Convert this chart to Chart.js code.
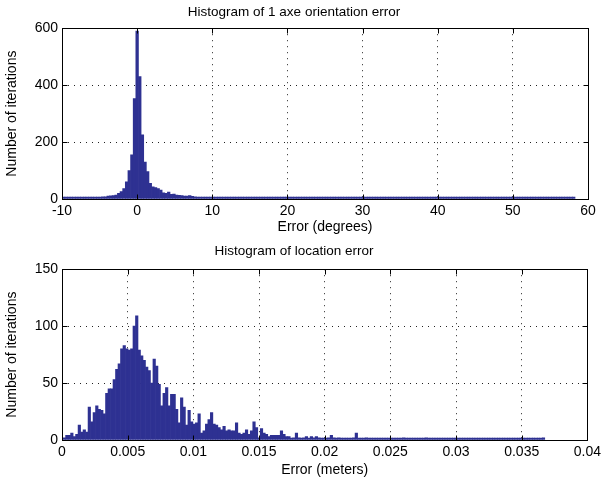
<!DOCTYPE html>
<html>
<head>
<meta charset="utf-8">
<script src="https://cdn.jsdelivr.net/npm/chart.js@4.4.0/dist/chart.umd.min.js"></script>
<style>
  html, body { margin: 0; padding: 0; background: #fff; }
  canvas { display: block; }
</style>
</head>
<body>
<canvas id="topChart" width="605" height="243"></canvas>
<canvas id="bottomChart" width="605" height="244"></canvas>
<script>
'use strict'
// top histogram: orientation error (degrees), bins of 0.35 starting at -9.8
let topStart = -9.8;
let topWidth = 0.35;
let topCounts = [
    1, 2, 1, 2, 2, 3, 2, 3, 3, 4, 4, 5, 5, 6,
    7, 8, 8, 10, 11, 12, 14, 20, 26, 37, 60, 100, 155, 353,
    590, 430, 225, 130, 96, 55, 43, 40, 37, 31, 22, 20, 24, 16,
    17, 14, 13, 12, 10, 10, 12, 9, 8, 7, 6, 6, 5, 5,
    4, 4, 3, 4, 3, 3, 2, 3, 2, 2,
    2, 1, 1, 2, 1, 1, 1, 0, 1, 2,
    1, 1, 0, 1, 1, 2, 2, 2, 1, 0,
    1, 0, 1, 1, 0, 1, 0, 1, 0, 2,
    1, 0, 1, 0, 1, 0, 2, 1, 0, 1,
    0, 1, 0, 1, 2, 1, 0, 0, 1, 0,
    2, 1, 0, 0, 1, 0, 0, 1, 0, 0,
    1, 0, 2, 1, 0, 0, 1, 0, 0, 0,
    1, 0, 0, 0, 1, 0, 0, 0, 0, 1,
    0, 0, 0, 1, 0, 0, 0, 0, 1, 0,
    0, 0, 0, 1, 0, 0, 0, 0, 0, 1,
    0, 0, 0, 0, 1, 0, 0, 0, 0, 0,
    1, 0, 0, 2, 0, 0, 0, 0, 0, 1,
    0, 0, 0, 0, 1, 0, 0, 0, 2
];
let topXTicks = [-10, 0, 10, 20, 30, 40, 50, 60];
let topXLabels = ['-10', '0', '10', '20', '30', '40', '50', '60'];
let topYTicks = [0, 200, 400, 600];
let topYLabels = ['0', '200', '400', '600'];

// bottom histogram: location error (meters), bins of 0.00019 starting at 0.00018
let bottomStart = 0.00018;
let bottomWidth = 0.00019;
let bottomCounts = [
    2, 4, 4, 6, 3, 5, 13, 7, 9, 7,
    29, 16, 24, 30, 27, 26, 23, 41, 45, 45,
    53, 62, 67, 80, 83, 80, 79, 80, 100, 109,
    79, 74, 70, 64, 61, 50, 71, 65, 49, 30,
    41, 46, 30, 40, 40, 27, 15, 37, 29, 13,
    26, 16, 14, 15, 23, 6, 8, 14, 18, 24,
    14, 13, 11, 9, 12, 8, 9, 8, 8, 15,
    6,
    5, 6, 9, 5, 8, 16, 11, 2, 10, 6,
    5, 3, 4, 4, 4, 4, 8, 5, 3, 3,
    1, 2, 6, 2, 1, 2, 3, 1, 3, 2,
    3, 2, 1, 1, 1, 2, 4, 2, 1, 2,
    0, 1, 0, 1, 1, 2, 6, 0, 0, 0,
    2, 1, 0, 0, 0, 0, 0, 1, 0, 0,
    0, 0, 0, 0, 0, 2, 0, 0, 0, 0,
    0, 0, 0, 0, 2,
    0, 0, 0, 0, 0, 0, 0, 0, 0, 0,
    0, 0, 0, 0, 0, 0, 0, 0, 0, 0,
    0, 0, 0, 0, 0, 0, 0, 0, 0, 0,
    0, 0, 0, 0, 0, 0, 0, 0, 0, 0,
    0, 0, 0, 0, 0, 0, 2
];
let bottomXTicks = [0, 0.005, 0.01, 0.015, 0.02, 0.025, 0.03, 0.035, 0.04];
let bottomXLabels = ['0', '0.005', '0.01', '0.015', '0.02', '0.025', '0.03', '0.035', '0.04'];
let bottomYTicks = [0, 50, 100, 150];
let bottomYLabels = ['0', '50', '100', '150'];

const barColor = '#2e3192';
const fontFamily = '"Liberation Sans", Arial, Helvetica, sans-serif';

// matlab style box with inward tick marks
const boxPlugin = {
    id: 'box',
    afterDatasetsDraw(chart) {
        const { ctx, chartArea: a, scales } = chart;
        const l = Math.round(a.left) + 0.5;
        const r = Math.round(a.right) + 0.5;
        const t = Math.round(a.top) + 0.5;
        const b = Math.round(a.bottom) + 0.5;
        ctx.save();
        ctx.strokeStyle = '#000';
        ctx.lineWidth = 1;
        ctx.beginPath();
        scales.x.ticks.forEach(tk => {
            const px = Math.round(scales.x.getPixelForValue(tk.value)) + 0.5;
            ctx.moveTo(px, b); ctx.lineTo(px, b - 5);
            ctx.moveTo(px, t); ctx.lineTo(px, t + 5);
        });
        scales.y.ticks.forEach(tk => {
            const py = Math.round(scales.y.getPixelForValue(tk.value)) + 0.5;
            ctx.moveTo(l, py); ctx.lineTo(l + 5, py);
            ctx.moveTo(r, py); ctx.lineTo(r - 5, py);
        });
        ctx.stroke();
        ctx.strokeRect(l, t, r - l, b - t);
        ctx.restore();
    }
};

function makeHist(canvasId, cfg) {
    let points = cfg.counts.map((c, i) => ({ x: cfg.start + i * cfg.width, y: c }));
    let ctx = document.getElementById(canvasId);
    return new Chart(ctx, {
        type: 'bar',
        data: {
            datasets: [{
                data: points,
                backgroundColor: barColor,
                borderWidth: 0,
                barPercentage: 1,
                categoryPercentage: 1,
                minBarLength: 2
            }]
        },
        options: {
            responsive: false,
            animation: false,
            devicePixelRatio: 1,
            layout: { padding: { left: 0, right: 17, top: 0, bottom: 0 } },
            plugins: {
                legend: { display: false },
                tooltip: { enabled: false },
                title: {
                    display: true,
                    text: cfg.title,
                    color: '#000',
                    font: { family: fontFamily, size: 13.5, weight: 'normal' },
                    padding: cfg.titlePad
                }
            },
            scales: {
                x: {
                    type: 'linear',
                    min: cfg.xTicks[0],
                    max: cfg.xTicks[cfg.xTicks.length - 1],
                    offset: false,
                    afterBuildTicks: s => { s.ticks = cfg.xTicks.map(v => ({ value: v })); },
                    afterFit: s => { s.height = cfg.xHeight; },
                    ticks: {
                        color: '#000',
                        padding: 4,
                        maxRotation: 0,
                        autoSkip: false,
                        font: { family: fontFamily, size: 14 },
                        callback: (v, i) => cfg.xLabels[i]
                    },
                    grid: { offset: false, drawTicks: false, color: '#222', lineWidth: 1 },
                    border: { display: false, dash: [1, 5] },
                    title: {
                        display: true,
                        text: cfg.xTitle,
                        color: '#000',
                        font: { family: fontFamily, size: 14 },
                        padding: { top: 0, bottom: cfg.xTitlePad }
                    }
                },
                y: {
                    min: cfg.yTicks[0],
                    max: cfg.yTicks[cfg.yTicks.length - 1],
                    afterBuildTicks: s => { s.ticks = cfg.yTicks.map(v => ({ value: v })); },
                    afterFit: s => { s.width = 62; },
                    ticks: {
                        color: '#000',
                        padding: 4,
                        font: { family: fontFamily, size: 14 },
                        callback: (v, i) => cfg.yLabels[i]
                    },
                    grid: { drawTicks: false, color: '#222', lineWidth: 1 },
                    border: { display: false, dash: [1, 5] },
                    title: {
                        display: true,
                        text: 'Number of iterations',
                        color: '#000',
                        font: { family: fontFamily, size: 14 },
                        padding: { top: 4, bottom: 0 }
                    }
                }
            }
        },
        plugins: [boxPlugin]
    });
}

makeHist('topChart', {
    counts: topCounts, start: topStart, width: topWidth,
    xTicks: topXTicks, xLabels: topXLabels, yTicks: topYTicks, yLabels: topYLabels,
    title: 'Histogram of 1 axe orientation error', titlePad: { top: 4, bottom: 8 },
    xTitle: 'Error (degrees)', xHeight: 44, xTitlePad: 7
});
makeHist('bottomChart', {
    counts: bottomCounts, start: bottomStart, width: bottomWidth,
    xTicks: bottomXTicks, xLabels: bottomXLabels, yTicks: bottomYTicks, yLabels: bottomYLabels,
    title: 'Histogram of location error', titlePad: { top: 0, bottom: 10 },
    xTitle: 'Error (meters)', xHeight: 47, xTitlePad: 8
});
</script>
</body>
</html>
